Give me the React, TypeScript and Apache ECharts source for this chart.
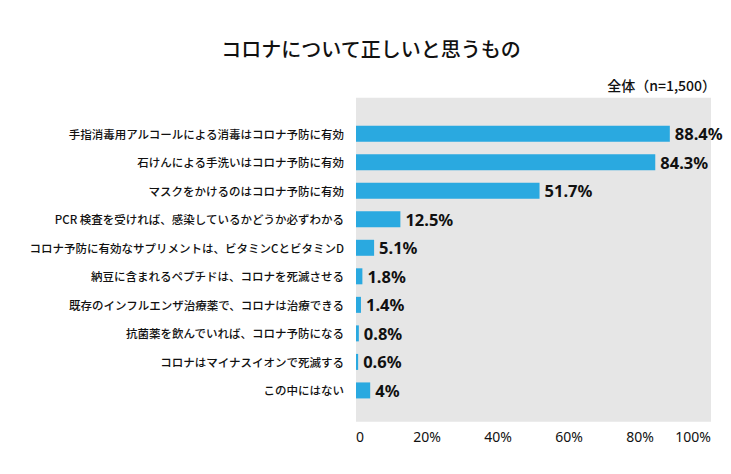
import React, { useEffect, useRef } from "react";
import * as echarts from "echarts";

const categories = [
  "手指消毒用アルコールによる消毒はコロナ予防に有効",
  "石けんによる手洗いはコロナ予防に有効",
  "マスクをかけるのはコロナ予防に有効",
  "PCR 検査を受ければ、感染しているかどうか必ずわかる",
  "コロナ予防に有効なサプリメントは、ビタミンCとビタミンD",
  "納豆に含まれるペプチドは、コロナを死滅させる",
  "既存のインフルエンザ治療薬で、コロナは治療できる",
  "抗菌薬を飲んでいれば、コロナ予防になる",
  "コロナはマイナスイオンで死滅する",
  "この中にはない",
];
const values = [88.4, 84.3, 51.7, 12.5, 5.1, 1.8, 1.4, 0.8, 0.6, 4];
const xTicks = [0, 20, 40, 60, 80, 100];
const titleText = "コロナについて正しいと思うもの";
const subtitleText = "全体（n=1,500）";

const JP = '"Noto Sans CJK JP", "Noto Sans", sans-serif';

export default function App() {
  const ref = useRef<HTMLDivElement>(null);
  useEffect(() => {
    document.body.style.margin = "0";
    const chart = echarts.init(ref.current!, null, { renderer: "svg" });
    chart.setOption({
      animation: false,
      backgroundColor: "#ffffff",
      title: [
        {
          text: titleText,
          left: 366,
          top: 33,
          textAlign: "center",
          textStyle: { fontFamily: JP, fontSize: 20, fontWeight: 500, color: "#111" },
        },
        {
          text: subtitleText,
          right: 10,
          top: 73,
          textStyle: { fontFamily: JP, fontSize: 14, fontWeight: 500, color: "#111" },
        },
      ],
      graphic: [
        {
          type: "rect",
          z: -10,
          silent: true,
          shape: { x: 356, y: 97.7, width: 355, height: 324 },
          style: { fill: "#e6e6e6" },
        },
      ],
      grid: { left: 356, right: 20, top: 119.4, height: 285.3, containLabel: false },
      xAxis: {
        type: "value",
        min: xTicks[0],
        max: xTicks[xTicks.length - 1],
        interval: 20,
        splitLine: { show: false },
        axisLine: { show: false },
        axisTick: { show: false },
        axisLabel: {
          margin: 25,
          fontFamily: '"Noto Sans", sans-serif',
          fontSize: 14,
          color: "#111",
          alignMinLabel: "left",
          alignMaxLabel: "right",
          formatter: (v: number) => (v === 0 ? "0" : v + "%"),
        },
      },
      yAxis: {
        type: "category",
        data: categories,
        inverse: true,
        axisLine: { show: false },
        axisTick: { show: false },
        splitLine: { show: false },
        axisLabel: {
          margin: 12,
          fontFamily: JP,
          fontSize: 11.5,
          fontWeight: 500,
          color: "#111",
        },
      },
      series: [
        {
          type: "bar",
          data: values,
          barWidth: 16,
          itemStyle: { color: "#2aa9e0" },
          label: {
            show: true,
            position: "right",
            distance: 5,
            formatter: (p: any) => p.value + "%",
            fontFamily: '"Noto Sans", sans-serif',
            fontSize: 16.5,
            fontWeight: "bold",
            color: "#111",
          },
        },
      ],
    });
    return () => chart.dispose();
  }, []);
  return <div ref={ref} style={{ width: 731, height: 474 }} />;
}
